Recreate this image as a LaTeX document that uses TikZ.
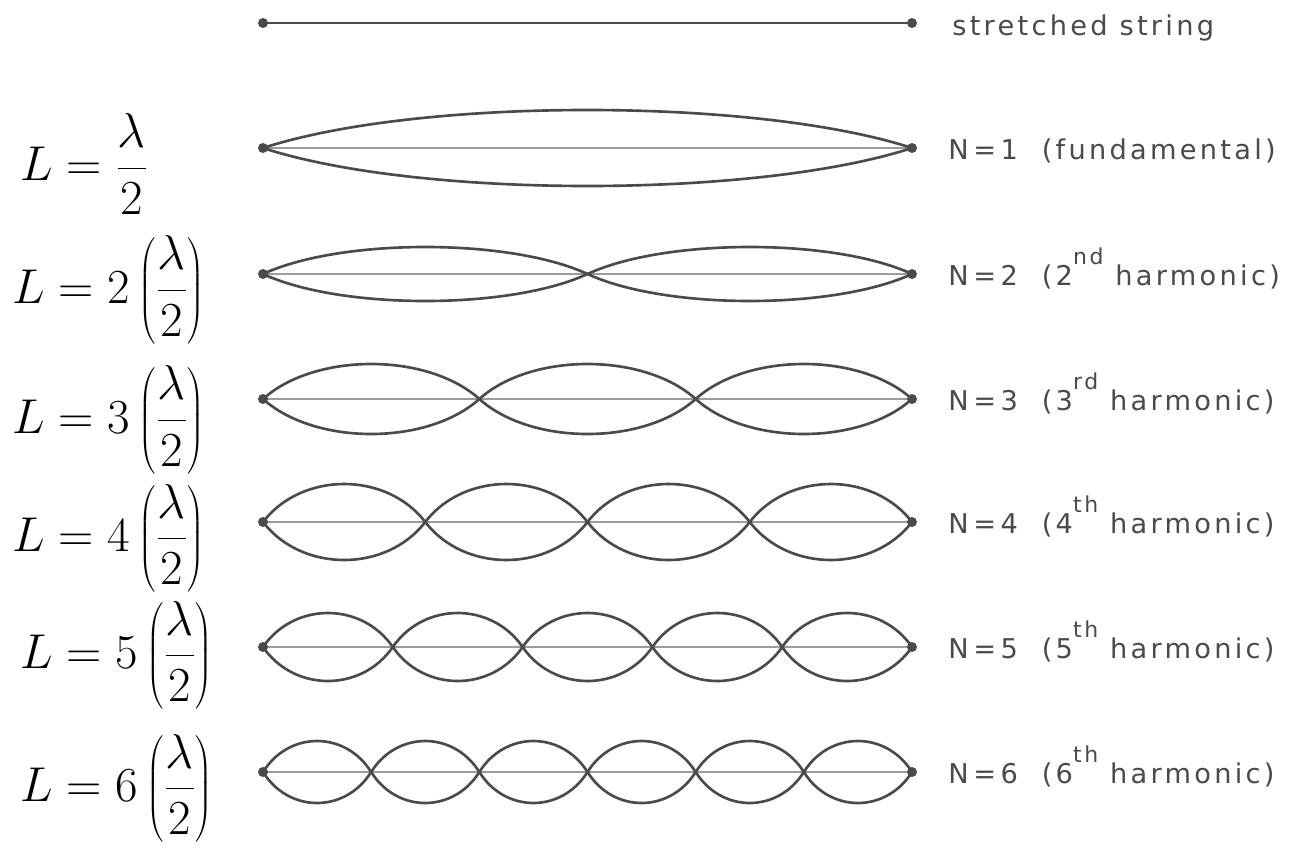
\documentclass[tikz,border=0pt]{standalone}
\usepackage{fontspec}
\newfontfamily\labelfont[LetterSpace=12]{DejaVu Sans}
\definecolor{ink}{HTML}{4A4A4A}
\definecolor{axisgray}{HTML}{9C9C9C}
\newcommand{\ordsup}[1]{\raisebox{0.75em}{\fontsize{12.5}{12.5}\selectfont #1}}
\newcommand{\lenlabel}[1]{\scalebox{1.12}{$\displaystyle L = #1\left(\frac{\lambda}{2}\right)$}}

\begin{document}
\begin{tikzpicture}[x=0.02cm, y=-0.02cm,
    lobe/.style={ink, line width=1.5pt},
    axisline/.style={axisgray, line width=1pt},
    harm/.style={anchor=base west, inner sep=0pt, ink, font=\labelfont\fontsize{15.5}{18}\selectfont},
    eqn/.style={anchor=west, inner sep=0pt, font=\fontsize{24.88}{30}\selectfont}]
    \def\xa{263}
    \def\xb{912}
    \useasboundingbox (0,0) rectangle (1311,852);

    % stretched string
    \coordinate (S0) at (\xa,23);
    \coordinate (E0) at (\xb,23);
    \draw[lobe] (S0) -- (E0);
    \fill[ink] (S0) circle (5) (E0) circle (5);
    \node[harm] (t0) at (952,35) {stretched string};

    % standing waves, N = 1 ... 6
    \foreach \n/\yy/\amp in {1/148/38, 2/274/27, 3/399/35, 4/522/38, 5/647/34, 6/772/31} {
        \coordinate (S\n) at (\xa,\yy);
        \coordinate (E\n) at (\xb,\yy);
        \draw[axisline] (S\n) -- (E\n);
        \pgfmathsetmacro\ww{(\xb-\xa)/\n}
        \pgfmathsetmacro\hh{4/3*\amp}
        \foreach \k in {1,...,\n} {
            \pgfmathsetmacro\pa{\xa+(\k-1)*\ww}
            \pgfmathsetmacro\pb{\xa+\k*\ww}
            \draw[lobe] (\pa,\yy) .. controls +(0.24*\ww,-\hh) and +(-0.24*\ww,-\hh) .. (\pb,\yy);
            \draw[lobe] (\pa,\yy) .. controls +(0.24*\ww,\hh) and +(-0.24*\ww,\hh) .. (\pb,\yy);
        }
        \fill[ink] (S\n) circle (5) (E\n) circle (5);
    }

    \node[harm] (t1) at (948,159) {N\,=\,1\ \ (fundamental)};
    \node[harm] (t2) at (948,285) {N\,=\,2\ \ (2\ordsup{nd} harmonic)};
    \node[harm] (t3) at (948,410) {N\,=\,3\ \ (3\ordsup{rd} harmonic)};
    \node[harm] (t4) at (948,533) {N\,=\,4\ \ (4\ordsup{th} harmonic)};
    \node[harm] (t5) at (948,658) {N\,=\,5\ \ (5\ordsup{th} harmonic)};
    \node[harm] (t6) at (948,783) {N\,=\,6\ \ (6\ordsup{th} harmonic)};

    % lengths
    \node[eqn] (q1) at (20,164) {\scalebox{1.12}{$\displaystyle L = \frac{\lambda}{2}$}};
    \foreach \n/\xx/\yy in {2/12/290, 3/12/420, 4/12/538, 5/20/655, 6/20/788} {
        \node[eqn] (q\n) at (\xx,\yy) {\lenlabel{\n}};
    }
\end{tikzpicture}
\end{document}
